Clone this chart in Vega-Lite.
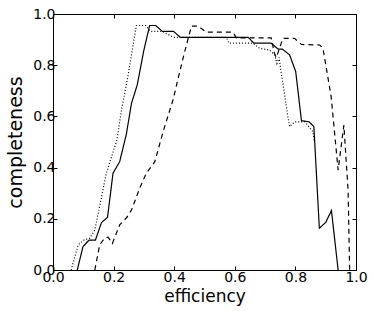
{
  "$schema": "https://vega.github.io/schema/vega-lite/v6.json",
  "width": 303,
  "height": 256,
  "autosize": {"type": "none"},
  "padding": {"left": 53, "top": 14, "right": 18, "bottom": 41},
  "background": "white",
  "config": {
    "font": "DejaVu Sans",
    "view": {"stroke": "black", "strokeWidth": 1},
    "axis": {
      "domain": false,
      "grid": false,
      "tickSize": -4,
      "tickColor": "black",
      "tickWidth": 1,
      "labelFont": "DejaVu Sans",
      "labelFontSize": 14,
      "labelColor": "black",
      "labelFlush": false,
      "labelOverlap": false,
      "titleFont": "DejaVu Sans",
      "titleFontSize": 17,
      "titleFontWeight": "normal",
      "titleColor": "black"
    }
  },
  "data": {
    "values": [
      {"series": "solid", "i": 0, "x": 0.08, "y": 0.0},
      {"series": "solid", "i": 1, "x": 0.099, "y": 0.091},
      {"series": "solid", "i": 2, "x": 0.119, "y": 0.117},
      {"series": "solid", "i": 3, "x": 0.14, "y": 0.117},
      {"series": "solid", "i": 4, "x": 0.16, "y": 0.185},
      {"series": "solid", "i": 5, "x": 0.18, "y": 0.206},
      {"series": "solid", "i": 6, "x": 0.198, "y": 0.378},
      {"series": "solid", "i": 7, "x": 0.22, "y": 0.423},
      {"series": "solid", "i": 8, "x": 0.242, "y": 0.53},
      {"series": "solid", "i": 9, "x": 0.259, "y": 0.651},
      {"series": "solid", "i": 10, "x": 0.278, "y": 0.723},
      {"series": "solid", "i": 11, "x": 0.3, "y": 0.859},
      {"series": "solid", "i": 12, "x": 0.319, "y": 0.955},
      {"series": "solid", "i": 13, "x": 0.339, "y": 0.955},
      {"series": "solid", "i": 14, "x": 0.361, "y": 0.932},
      {"series": "solid", "i": 15, "x": 0.398, "y": 0.932},
      {"series": "solid", "i": 16, "x": 0.42, "y": 0.909},
      {"series": "solid", "i": 17, "x": 0.644, "y": 0.909},
      {"series": "solid", "i": 18, "x": 0.663, "y": 0.886},
      {"series": "solid", "i": 19, "x": 0.72, "y": 0.886},
      {"series": "solid", "i": 20, "x": 0.743, "y": 0.863},
      {"series": "solid", "i": 21, "x": 0.757, "y": 0.863},
      {"series": "solid", "i": 22, "x": 0.781, "y": 0.84},
      {"series": "solid", "i": 23, "x": 0.801, "y": 0.775},
      {"series": "solid", "i": 24, "x": 0.82, "y": 0.583},
      {"series": "solid", "i": 25, "x": 0.845, "y": 0.579},
      {"series": "solid", "i": 26, "x": 0.861, "y": 0.56},
      {"series": "solid", "i": 27, "x": 0.879, "y": 0.163},
      {"series": "solid", "i": 28, "x": 0.9, "y": 0.186},
      {"series": "solid", "i": 29, "x": 0.919, "y": 0.232},
      {"series": "solid", "i": 30, "x": 0.941, "y": 0.0},

      {"series": "dotted", "i": 0, "x": 0.06, "y": 0.0},
      {"series": "dotted", "i": 1, "x": 0.083, "y": 0.098},
      {"series": "dotted", "i": 2, "x": 0.102, "y": 0.117},
      {"series": "dotted", "i": 3, "x": 0.121, "y": 0.124},
      {"series": "dotted", "i": 4, "x": 0.138, "y": 0.156},
      {"series": "dotted", "i": 5, "x": 0.176, "y": 0.378},
      {"series": "dotted", "i": 6, "x": 0.211, "y": 0.508},
      {"series": "dotted", "i": 7, "x": 0.226, "y": 0.625},
      {"series": "dotted", "i": 8, "x": 0.248, "y": 0.762},
      {"series": "dotted", "i": 9, "x": 0.275, "y": 0.955},
      {"series": "dotted", "i": 10, "x": 0.306, "y": 0.955},
      {"series": "dotted", "i": 11, "x": 0.322, "y": 0.932},
      {"series": "dotted", "i": 12, "x": 0.361, "y": 0.932},
      {"series": "dotted", "i": 13, "x": 0.38, "y": 0.92},
      {"series": "dotted", "i": 14, "x": 0.398, "y": 0.909},
      {"series": "dotted", "i": 15, "x": 0.572, "y": 0.909},
      {"series": "dotted", "i": 16, "x": 0.581, "y": 0.886},
      {"series": "dotted", "i": 17, "x": 0.66, "y": 0.886},
      {"series": "dotted", "i": 18, "x": 0.682, "y": 0.866},
      {"series": "dotted", "i": 19, "x": 0.715, "y": 0.859},
      {"series": "dotted", "i": 20, "x": 0.732, "y": 0.84},
      {"series": "dotted", "i": 21, "x": 0.739, "y": 0.807},
      {"series": "dotted", "i": 22, "x": 0.746, "y": 0.83},
      {"series": "dotted", "i": 23, "x": 0.752, "y": 0.78},
      {"series": "dotted", "i": 24, "x": 0.765, "y": 0.68},
      {"series": "dotted", "i": 25, "x": 0.775, "y": 0.6},
      {"series": "dotted", "i": 26, "x": 0.781, "y": 0.56},
      {"series": "dotted", "i": 27, "x": 0.798, "y": 0.579},
      {"series": "dotted", "i": 28, "x": 0.831, "y": 0.579},
      {"series": "dotted", "i": 29, "x": 0.858, "y": 0.54},
      {"series": "dotted", "i": 30, "x": 0.862, "y": 0.5},

      {"series": "dashed", "i": 0, "x": 0.138, "y": 0.0},
      {"series": "dashed", "i": 1, "x": 0.154, "y": 0.098},
      {"series": "dashed", "i": 2, "x": 0.17, "y": 0.124},
      {"series": "dashed", "i": 3, "x": 0.182, "y": 0.128},
      {"series": "dashed", "i": 4, "x": 0.196, "y": 0.104},
      {"series": "dashed", "i": 5, "x": 0.22, "y": 0.176},
      {"series": "dashed", "i": 6, "x": 0.244, "y": 0.206},
      {"series": "dashed", "i": 7, "x": 0.259, "y": 0.234},
      {"series": "dashed", "i": 8, "x": 0.286, "y": 0.319},
      {"series": "dashed", "i": 9, "x": 0.308, "y": 0.378},
      {"series": "dashed", "i": 10, "x": 0.336, "y": 0.423},
      {"series": "dashed", "i": 11, "x": 0.365, "y": 0.547},
      {"series": "dashed", "i": 12, "x": 0.396, "y": 0.664},
      {"series": "dashed", "i": 13, "x": 0.429, "y": 0.827},
      {"series": "dashed", "i": 14, "x": 0.457, "y": 0.953},
      {"series": "dashed", "i": 15, "x": 0.479, "y": 0.953},
      {"series": "dashed", "i": 16, "x": 0.506, "y": 0.929},
      {"series": "dashed", "i": 17, "x": 0.594, "y": 0.929},
      {"series": "dashed", "i": 18, "x": 0.605, "y": 0.907},
      {"series": "dashed", "i": 19, "x": 0.72, "y": 0.907},
      {"series": "dashed", "i": 20, "x": 0.731, "y": 0.846},
      {"series": "dashed", "i": 21, "x": 0.737, "y": 0.83},
      {"series": "dashed", "i": 22, "x": 0.759, "y": 0.905},
      {"series": "dashed", "i": 23, "x": 0.797, "y": 0.905},
      {"series": "dashed", "i": 24, "x": 0.82, "y": 0.881},
      {"series": "dashed", "i": 25, "x": 0.88, "y": 0.879},
      {"series": "dashed", "i": 26, "x": 0.891, "y": 0.866},
      {"series": "dashed", "i": 27, "x": 0.918, "y": 0.677},
      {"series": "dashed", "i": 28, "x": 0.941, "y": 0.39},
      {"series": "dashed", "i": 29, "x": 0.96, "y": 0.566},
      {"series": "dashed", "i": 30, "x": 0.974, "y": 0.31},
      {"series": "dashed", "i": 31, "x": 0.979, "y": 0.0}
    ]
  },
  "layer": [
    {
      "mark": {"type": "line", "color": "black", "strokeWidth": 1.2},
      "encoding": {
        "x": {
          "field": "x", "type": "quantitative",
          "scale": {"domain": [0, 1], "nice": false, "zero": false},
          "axis": {"orient": "bottom", "values": [0, 0.2, 0.4, 0.6, 0.8, 1.0], "format": ".1f", "title": "efficiency", "labelPadding": 4, "titlePadding": 4}
        },
        "y": {
          "field": "y", "type": "quantitative",
          "scale": {"domain": [0, 1], "nice": false, "zero": false},
          "axis": {"orient": "left", "values": [0, 0.2, 0.4, 0.6, 0.8, 1.0], "format": ".1f", "title": "completeness", "titleFontSize": 19, "labelPadding": 2, "titlePadding": 7}
        },
        "strokeDash": {
          "field": "series", "type": "nominal",
          "scale": {"domain": ["solid", "dashed", "dotted"], "range": [[1, 0], [5, 4], [1, 2]]},
          "legend": null
        },
        "order": {"field": "i", "type": "quantitative"}
      }
    },
    {
      "mark": {"type": "line", "strokeOpacity": 0},
      "encoding": {
        "x": {
          "field": "x", "type": "quantitative",
          "axis": {"orient": "top", "values": [0, 0.2, 0.4, 0.6, 0.8, 1.0], "labels": false, "title": null}
        },
        "y": {
          "field": "y", "type": "quantitative",
          "axis": {"orient": "right", "values": [0, 0.2, 0.4, 0.6, 0.8, 1.0], "labels": false, "title": null}
        },
        "detail": {"field": "series", "type": "nominal"}
      }
    }
  ],
  "resolve": {"axis": {"x": "independent", "y": "independent"}}
}
